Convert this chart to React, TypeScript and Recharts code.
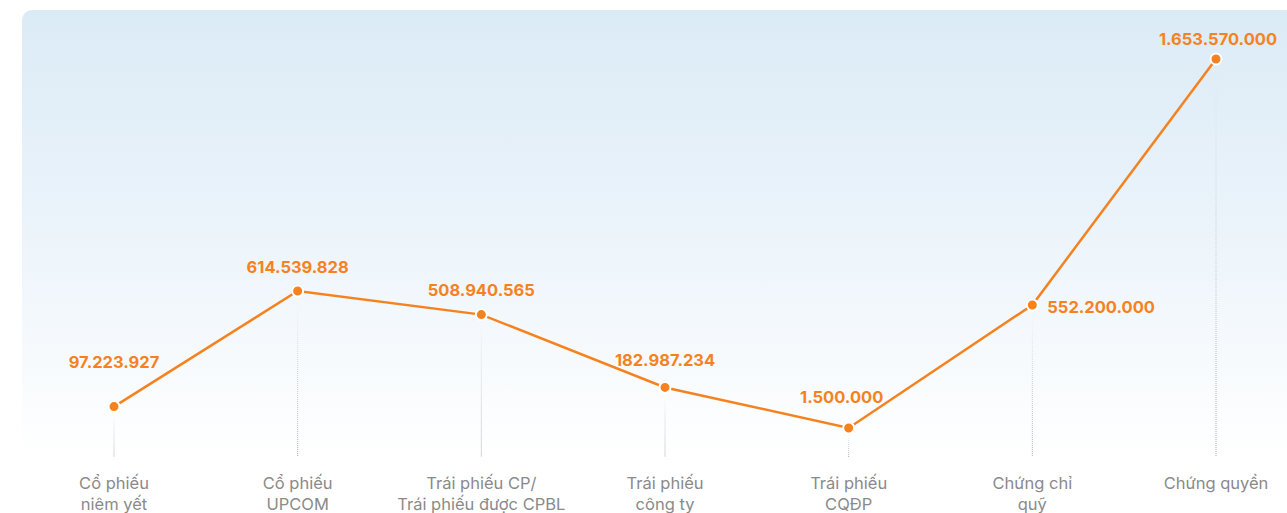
import { LineChart, Line, XAxis, YAxis, LabelList } from "recharts";

const categories = [
  "Cổ phiếu\nniêm yết",
  "Cổ phiếu\nUPCOM",
  "Trái phiếu CP/\nTrái phiếu được CPBL",
  "Trái phiếu\ncông ty",
  "Trái phiếu\nCQĐP",
  "Chứng chỉ\nquỹ",
  "Chứng quyền",
];

const values = [97223927, 614539828, 508940565, 182987234, 1500000, 552200000, 1653570000];

const data = categories.map((name, i) => ({ name, value: values[i] }));

// label placement tweaks (dx, dy from the point)
const labelNudge = [
  [0, -45],
  [0, -24],
  [0, -25],
  [0, -27],
  [-7, -31],
  [15, 2],
  [2, -20],
];

const ORANGE = "#f5821f";
const PLOT_BOTTOM = 457;

const fmt = (v: number) => v.toString().replace(/\B(?=(\d{3})+(?!\d))/g, ".");

const Tick = (props: any) => {
  const { x, y, payload } = props;
  const lines = String(payload.value).split("\n");
  return (
    <text x={x} y={y} textAnchor="middle" fill="#8a8a8a" fontSize={16.5} fontFamily="Inter, sans-serif">
      {lines.map((l, i) => (
        <tspan key={i} x={x} dy={i === 0 ? 24 : 21}>
          {l}
        </tspan>
      ))}
    </text>
  );
};

const Dot = (props: any) => {
  const { cx, cy, index } = props;
  const id = `drop-${index}`;
  return (
    <g key={id}>
      <defs>
        <linearGradient id={id} gradientUnits="userSpaceOnUse" x1={0} y1={cy + 8} x2={0} y2={PLOT_BOTTOM}>
          <stop offset="0%" stopColor="#b5b5b5" stopOpacity={0} />
          <stop offset="35%" stopColor="#b5b5b5" stopOpacity={0.5} />
          <stop offset="100%" stopColor="#a8a8a8" stopOpacity={1} />
        </linearGradient>
      </defs>
      <line x1={cx} x2={cx} y1={cy + 8} y2={PLOT_BOTTOM} stroke={`url(#${id})`} strokeWidth={1} strokeDasharray="1 1" />
      <circle cx={cx} cy={cy} r={5.5} fill={ORANGE} stroke="#ffffff" strokeWidth={2} />
    </g>
  );
};

const ValueLabel = (props: any) => {
  const { x, y, value, index } = props;
  const [dx, dy] = labelNudge[index];
  const right = index === 5;
  return (
    <text
      x={x + dx}
      y={y + dy}
      textAnchor={right ? "start" : "middle"}
      dominantBaseline="central"
      fill={ORANGE}
      fontSize={16.5}
      fontWeight={700}
      fontFamily="Inter, sans-serif"
    >
      {fmt(value)}
    </text>
  );
};

export default function App() {
  return (
    <div style={{ position: "absolute", left: 0, top: 0, width: 1287, height: 513, background: "#fff" }}>
      <div
        style={{
          position: "absolute",
          left: 22,
          top: 10,
          width: 1265,
          height: 447,
          borderTopLeftRadius: 10,
          background: "linear-gradient(180deg, #dbebf6 0%, #eaf3fa 45%, #ffffff 100%)",
        }}
      />
      <div style={{ position: "absolute", left: 0, top: 0 }}>
        <LineChart width={1287} height={513} data={data} margin={{ top: 10, right: 0, bottom: 0, left: 22 }}>
          <XAxis
            dataKey="name"
            axisLine={false}
            tickLine={false}
            height={56}
            interval={0}
            padding={{ left: 92, right: 71 }}
            tick={<Tick />}
          />
          <YAxis hide domain={[-128500000, 1872800000]} />
          <Line
            type="linear"
            dataKey="value"
            stroke={ORANGE}
            strokeWidth={2.5}
            dot={<Dot />}
            activeDot={false}
            isAnimationActive={false}
          >
            <LabelList dataKey="value" content={<ValueLabel />} />
          </Line>
        </LineChart>
      </div>
    </div>
  );
}
